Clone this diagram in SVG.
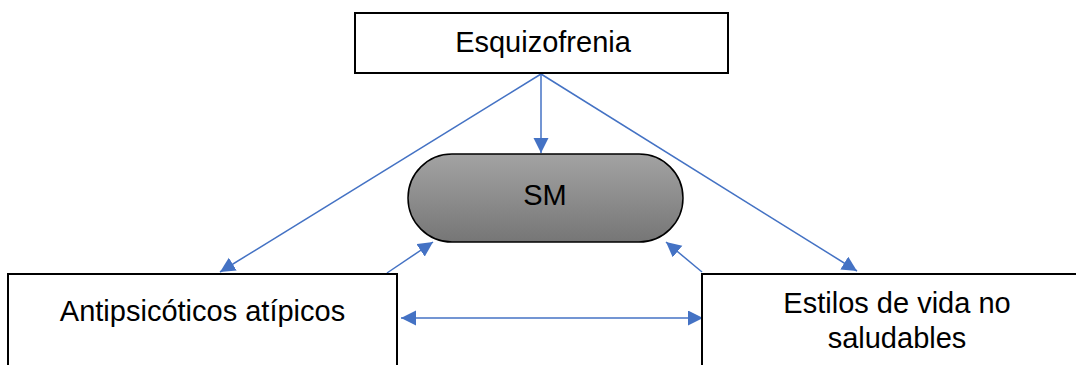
<svg xmlns="http://www.w3.org/2000/svg" width="1076" height="365" viewBox="0 0 1076 365">
<style>
.box{fill:#fff;stroke:#000;stroke-width:2}
.lbl{font-family:"Liberation Sans",Arial,sans-serif;font-size:29px;fill:#000;text-anchor:middle}
.con{stroke:#4472C4;stroke-width:1.5;fill:none}
</style>
<defs>
<marker id="ah" markerUnits="userSpaceOnUse" markerWidth="16" markerHeight="16" refX="15" refY="7.5" orient="auto-start-reverse">
<path d="M0,0 L15,7.5 L0,15 z" fill="#4472C4"/>
</marker>
<linearGradient id="g" x1="0" y1="0" x2="0" y2="1">
<stop offset="0" stop-color="#a3a3a3"/>
<stop offset="1" stop-color="#767676"/>
</linearGradient>
</defs>
<g id="connectors">
<line class="con" x1="541" y1="74" x2="541" y2="153" marker-end="url(#ah)"/>
<line class="con" x1="541" y1="74" x2="220" y2="272" marker-end="url(#ah)"/>
<line class="con" x1="541" y1="74" x2="857" y2="271" marker-end="url(#ah)"/>
<line class="con" x1="387" y1="273" x2="433" y2="242" marker-end="url(#ah)"/>
<line class="con" x1="702" y1="272" x2="666" y2="242" marker-end="url(#ah)"/>
<line class="con" x1="401" y1="318" x2="703" y2="318" marker-start="url(#ah)" marker-end="url(#ah)"/>
</g>
<g id="esquizofrenia">
<rect class="box" x="355" y="13" width="373" height="60"/>
<text class="lbl" x="543" y="52">Esquizofrenia</text>
</g>
<g id="sm">
<rect x="408" y="154" width="275" height="88" rx="44" ry="44" fill="url(#g)" stroke="#000" stroke-width="1.5"/>
<text class="lbl" x="545" y="205">SM</text>
</g>
<g id="antipsicoticos">
<rect class="box" x="8" y="274" width="389" height="110"/>
<text class="lbl" x="202.5" y="321">Antipsicóticos atípicos</text>
</g>
<g id="estilos">
<rect class="box" x="702" y="274" width="390" height="110"/>
<text class="lbl" x="897" y="313">Estilos de vida no</text>
<text class="lbl" x="897" y="348">saludables</text>
</g>
</svg>
